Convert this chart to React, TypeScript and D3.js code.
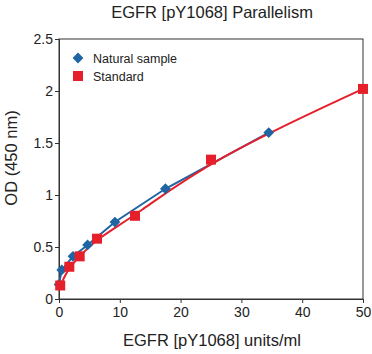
import React, { useRef, useEffect } from "react";
import * as d3 from "d3";

// Natural sample (blue diamonds)
const sampleX = [0, 0.45, 2.3, 4.7, 9.2, 17.5, 34.5];
const sampleOD = [0.14, 0.28, 0.41, 0.52, 0.74, 1.06, 1.6];

// Standard (red squares)
const standardX = [0.2, 1.7, 3.4, 6.25, 12.5, 25, 50];
const standardOD = [0.13, 0.31, 0.41, 0.58, 0.8, 1.34, 2.02];

const xTicks = [0, 10, 20, 30, 40, 50];
const yTicks = [0, 0.5, 1, 1.5, 2, 2.5];

const BLUE = "#1f64a3";
const RED = "#e6202b";
const FONT = "'Liberation Sans', Arial, Helvetica, sans-serif";

export default function App() {
  const svgRef = useRef<SVGSVGElement>(null);
  const width = 372;
  const height = 354;
  const margin = { top: 39, right: 9, bottom: 55, left: 59 };

  useEffect(() => {
    const svg = d3.select(svgRef.current);
    svg.selectAll("*").remove();

    const x = d3.scaleLinear().domain([0, 50]).range([margin.left, width - margin.right]);
    const y = d3.scaleLinear().domain([0, 2.5]).range([height - margin.bottom, margin.top]);

    // title
    svg
      .append("text")
      .attr("x", 212)
      .attr("y", 18)
      .attr("text-anchor", "middle")
      .attr("font-size", "16.5px")
      .attr("fill", "#222")
      .text("EGFR [pY1068] Parallelism");

    // frame
    svg
      .append("rect")
      .attr("x", x(0))
      .attr("y", y(2.5))
      .attr("width", x(50) - x(0))
      .attr("height", y(0) - y(2.5))
      .attr("fill", "none")
      .attr("stroke", "#333")
      .attr("stroke-width", 1);

    const yAxis = svg
      .append("g")
      .attr("transform", `translate(${x(0)},0)`)
      .call(
        d3.axisLeft(y).tickValues(yTicks).tickSize(4).tickPadding(2).tickFormat((d) => String(d))
      );
    const xAxis = svg
      .append("g")
      .attr("transform", `translate(0,${y(0)})`)
      .call(
        d3.axisBottom(x).tickValues(xTicks).tickSize(4).tickPadding(4).tickFormat((d) => String(d))
      );
    [yAxis, xAxis].forEach((g) => {
      g.select(".domain").attr("stroke", "#333");
      g.selectAll(".tick line").attr("stroke", "#333");
      g.selectAll(".tick text")
        .attr("font-family", FONT)
        .attr("font-size", "14px")
        .attr("fill", "#222");
    });

    // axis titles
    svg
      .append("text")
      .attr("x", 212)
      .attr("y", 346)
      .attr("text-anchor", "middle")
      .attr("font-size", "16.5px")
      .attr("fill", "#222")
      .text("EGFR [pY1068] units/ml");
    svg
      .append("text")
      .attr("transform", "translate(17,158) rotate(-90)")
      .attr("text-anchor", "middle")
      .attr("font-size", "16.5px")
      .attr("fill", "#222")
      .text("OD (450 nm)");

    const sample = sampleX.map((v, i) => [v, sampleOD[i]] as [number, number]);
    const standard = standardX.map((v, i) => [v, standardOD[i]] as [number, number]);

    const straight = d3
      .line<[number, number]>()
      .x((d) => x(d[0]))
      .y((d) => y(d[1]));
    const smooth = d3
      .line<[number, number]>()
      .x((d) => x(d[0]))
      .y((d) => y(d[1]))
      .curve(d3.curveBasis);

    svg
      .append("path")
      .attr("d", straight(sample))
      .attr("fill", "none")
      .attr("stroke", BLUE)
      .attr("stroke-width", 2);
    svg
      .append("path")
      .attr("d", smooth(standard))
      .attr("fill", "none")
      .attr("stroke", RED)
      .attr("stroke-width", 2);

    const diamond = d3.symbol().type(d3.symbolSquare).size(58);
    svg
      .append("g")
      .selectAll("path")
      .data(sample)
      .enter()
      .append("path")
      .attr("d", diamond() as string)
      .attr("transform", (d) => `translate(${x(d[0])},${y(d[1])}) rotate(45)`)
      .attr("fill", BLUE);

    svg
      .append("g")
      .selectAll("rect")
      .data(standard)
      .enter()
      .append("rect")
      .attr("x", (d) => x(d[0]) - 5)
      .attr("y", (d) => y(d[1]) - 5)
      .attr("width", 10)
      .attr("height", 10)
      .attr("fill", RED);

    // legend
    const legend = svg.append("g");
    legend
      .append("path")
      .attr("d", diamond() as string)
      .attr("transform", "translate(78,58) rotate(45)")
      .attr("fill", BLUE);
    legend
      .append("rect")
      .attr("x", 73)
      .attr("y", 71)
      .attr("width", 10)
      .attr("height", 10)
      .attr("fill", RED);
    legend
      .append("text")
      .attr("x", 93)
      .attr("y", 62.5)
      .attr("font-size", "12.5px")
      .attr("fill", "#222")
      .text("Natural sample");
    legend
      .append("text")
      .attr("x", 93)
      .attr("y", 80.5)
      .attr("font-size", "12.5px")
      .attr("fill", "#222")
      .text("Standard");
  }, []);

  return (
    <svg
      ref={svgRef}
      width={width}
      height={height}
      style={{ position: "absolute", left: 0, top: 0, background: "#fff", fontFamily: FONT }}
      fontFamily={FONT}
    />
  );
}
